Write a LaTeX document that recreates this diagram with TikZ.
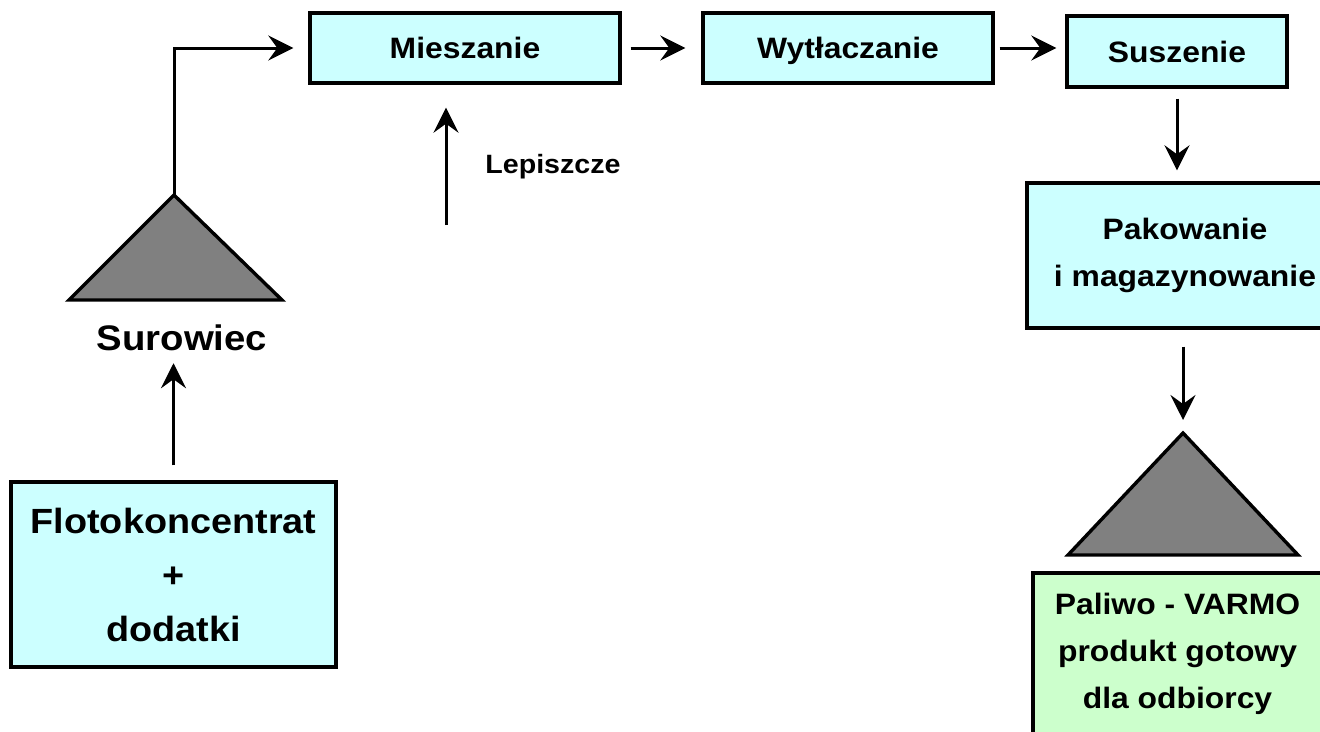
\documentclass[tikz,border=0pt]{standalone}
\usepackage{fontspec}
\setmainfont[FakeStretch=1.08]{Liberation Sans}
\usetikzlibrary{arrows.meta}
\definecolor{boxcyan}{HTML}{CCFFFF}
\definecolor{boxgreen}{HTML}{CCFFCC}
\definecolor{trigray}{HTML}{808080}
\begin{document}
\begin{tikzpicture}[x=1pt,y=-1pt,
  procbox/.style={draw=black, line width=3.4pt, fill=boxcyan, inner sep=0pt, align=center,
    font=\bfseries\fontsize{29.5}{47}\selectfont},
  oneline/.style={text height=21pt, text depth=0pt},
  flow/.style={line width=3pt, -{Stealth[length=25pt,width=25pt,inset=9pt]}},
  tri/.style={draw=black, line width=3.4pt, fill=trigray, line join=miter},
  lbl/.style={inner sep=0pt, align=center}]
\useasboundingbox (0,0) rectangle (1320,731);
% process boxes
\node[procbox, oneline, minimum width=310pt, minimum height=70pt] (mies) at (465,48) {Mieszanie};
\node[procbox, oneline, minimum width=290pt, minimum height=70pt] (wyt) at (848,48) {Wytłaczanie};
\node[procbox, oneline, minimum width=220pt, minimum height=71pt] (sus) at (1177,51.5) {Suszenie};
\node[procbox, minimum width=316pt, minimum height=145pt] (pak) at (1185,255.5) {};
\node[lbl, font=\bfseries\fontsize{29.5}{47}\selectfont] (paktxt) at (1185,255) {Pakowanie\\i magazynowanie};
\node[procbox, minimum width=325pt, minimum height=185pt,
  font=\bfseries\fontsize{35}{54}\selectfont] (flot) at (173.5,574.5) {Flotokoncentrat\\+\\dodatki};
\node[procbox, fill=boxgreen, minimum width=289pt, minimum height=162pt] (prod) at (1177.5,654) {Paliwo - VARMO\\produkt gotowy\\dla odbiorcy};
% triangles
\coordinate (tri1top) at (174,195);
\draw[tri] (tri1top) -- (282,300) -- (69,300) -- cycle;
\coordinate (tri2top) at (1183,433);
\draw[tri] (tri2top) -- (1298,555) -- (1068,555) -- cycle;
% labels
\node[lbl, font=\bfseries\fontsize{35.5}{40}\selectfont] (suro) at (182,338) {Surowiec};
\node[lbl, font=\bfseries\fontsize{26.5}{30}\selectfont] (lep) at (553,167) {Lepiszcze};
\coordinate (lepstart) at (446,225);
% connectors
\draw[flow, shorten >=15pt] (tri1top) |- (mies.west);
\draw[flow, shorten <=9pt, shorten >=16pt] (mies.east) -- (wyt.west |- mies.east);
\draw[flow, shorten <=5pt, shorten >=9pt] (wyt.east) -- (sus.west |- wyt.east);
\draw[flow, shorten <=10pt, shorten >=11pt] (sus.south) -- (sus.south |- pak.north);
\draw[flow, shorten <=17pt, shorten >=13pt] (pak.south -| tri2top) -- (tri2top);
\draw[flow, shorten <=15pt, shorten >=12pt] (flot.north) -- (flot.north |- suro.south);
\draw[flow, shorten >=23pt] (lepstart) -- (lepstart |- mies.south);
\end{tikzpicture}
\end{document}
